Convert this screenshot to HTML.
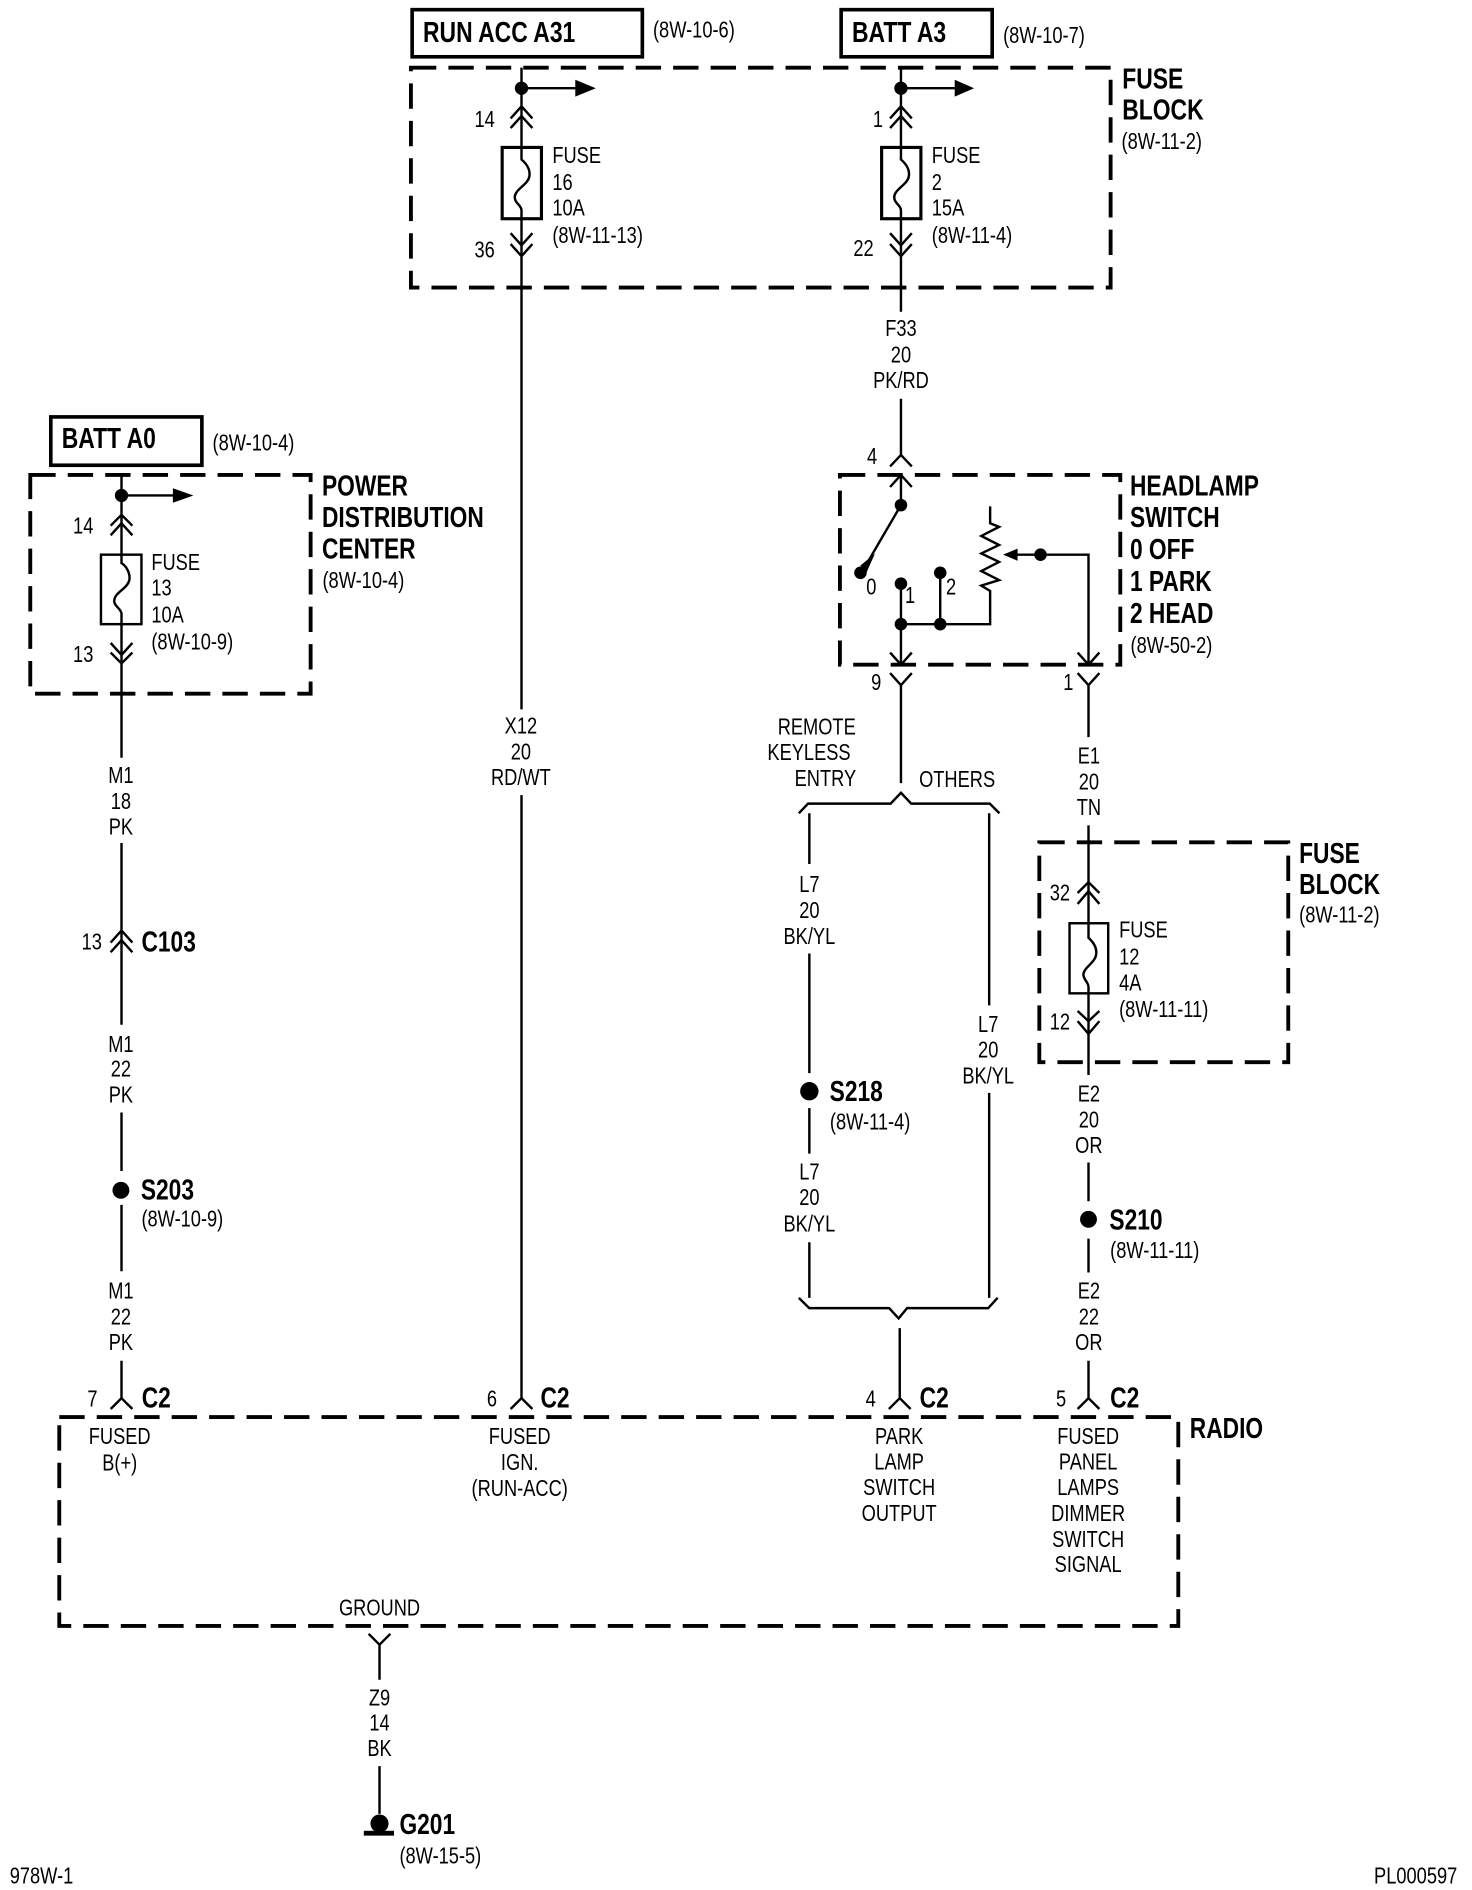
<!DOCTYPE html>
<html><head><meta charset="utf-8"><style>
html,body{margin:0;padding:0;background:#fff}
svg{display:block}
text{font-family:"Liberation Sans",sans-serif;fill:#000}
.s text,text.s{font-size:19px}
.b text,text.b{font-size:24px;font-weight:bold}
.m text,text.m{text-anchor:middle}
.w{stroke:#000;stroke-width:2;fill:none}
.t{stroke:#000;stroke-width:3;fill:none}
.d{stroke:#000;stroke-width:3.2;fill:none;stroke-dasharray:21 10}
</style></head><body>
<svg width="1472" height="1890" viewBox="0 0 1218 1564" xmlns="http://www.w3.org/2000/svg">
<rect width="1218" height="1564" fill="#fff"/>

<!-- boxes -->
<rect class="t" x="341" y="8" width="190.5" height="39"/>
<rect class="t" x="696" y="8" width="125" height="39"/>
<rect class="t" x="42" y="345" width="125" height="40"/>
<rect class="d" x="340" y="56" width="579" height="182"/>
<rect class="d" x="25" y="393" width="232" height="181"/>
<rect class="d" x="695" y="393" width="232" height="157"/>
<rect class="d" x="860" y="697" width="206" height="182"/>
<rect class="d" x="49" y="1172.6" width="926" height="172.9"/>

<!-- column B: fuse 16 -->
<path class="w" d="M431.5 56V132C435 135 439 140 438 146C437 153 425 157 426 164C426 168 431.5 170 431.5 174V587M431.5 658V1157"/>
<circle cx="431.5" cy="73" r="5.5"/>
<path class="w" d="M431.5 73H478"/><path d="M476 66L493 73L476 80Z"/>
<path class="w" d="M422.5 98L431.5 88L440.5 98M422.5 106L431.5 96L440.5 106"/>
<rect class="t" x="415.5" y="122" width="32.5" height="59" style="stroke-width:2.6"/>
<path class="w" d="M422.5 193L431.5 203L440.5 193M422.5 202L431.5 212L440.5 202"/>

<!-- column C: fuse 2 -->
<path class="w" d="M745.5 56V132C749 135 753 140 752 146C751 153 739 157 740 164C740 168 745.5 170 745.5 174V258M745.5 330V377M745.5 393V418"/>
<circle cx="745.5" cy="73" r="5.5"/>
<path class="w" d="M745.5 73H792"/><path d="M790 66L806 73L790 80Z"/>
<path class="w" d="M736.5 98L745.5 88L754.5 98M736.5 106L745.5 96L754.5 106"/>
<rect class="t" x="729.5" y="122" width="32.5" height="59" style="stroke-width:2.6"/>
<path class="w" d="M736.5 193L745.5 203L754.5 193M736.5 202L745.5 212L754.5 202"/>

<!-- column A -->
<path class="w" d="M100.5 393V466C104 468 108 474 107 480C105 488 94 490 94.5 498C95 502 100.5 504 100.5 508V627M100.5 697.6V848M100.5 920.6V969M100.5 997V1052M100.5 1126V1157"/>
<circle cx="100.5" cy="410" r="5.5"/>
<path class="w" d="M100.5 410H145"/><path d="M143 404L160 410L143 416Z"/>
<path class="w" d="M91.5 435L100.5 426L109.5 435M91.5 443L100.5 433L109.5 443"/>
<rect x="83.5" y="459" width="33.5" height="57.5" style="stroke:#000;stroke-width:2;fill:none"/>
<path class="w" d="M91.5 532L100.5 542L109.5 532M91.5 540L100.5 549L109.5 540"/>
<path class="w" d="M91.5 780L100.5 770L109.5 780M91.5 788L100.5 778L109.5 788"/>
<circle cx="100" cy="985" r="7"/>

<!-- headlamp switch -->
<path class="w" d="M736.5 386L745.5 376.5L754.5 386M736.5 403L745.5 393L754.5 403"/>
<circle cx="745.5" cy="418" r="5.2"/><circle cx="712" cy="474" r="5.2"/>
<path class="w" d="M745.5 418L714 472"/>
<path d="M712 468L724 458L716 476Z"/>
<circle cx="745.5" cy="483" r="5.2"/><circle cx="778" cy="474" r="5.2"/>
<circle cx="745.5" cy="516.5" r="5.2"/><circle cx="778" cy="516.5" r="5.2"/>
<path class="w" d="M745.5 483V550M778 474V516.5M745.5 516.5H819.3V489L812 484.6L826.7 480L812 472.6L826.7 465L812 458L826.7 451L812 443.5L826.7 436L819.3 433V419"/>
<path class="w" d="M840 459H900.7V550"/>
<path d="M830 459L842 454V464Z"/>
<circle cx="861" cy="459" r="5.2"/>
<path class="w" d="M736.5 540L745.5 550L754.5 540M736.5 557L745.5 567L754.5 557M745.5 567V648"/>
<path class="w" d="M891.7 540L900.7 550L909.7 540M891.7 557L900.7 567L909.7 557M900.7 567V610"/>

<!-- branches -->
<path class="w" d="M661 673L668.6 665H737L745.5 656L754 665H819L827 673"/>
<path class="w" d="M669.7 673V715M669.7 789V888M669.7 917V954.6M669.7 1028V1074"/>
<path class="w" d="M818.5 673V832M818.5 904.4V1074"/>
<circle cx="669.7" cy="903" r="7.6"/>
<path class="w" d="M661 1074L669.6 1082.5H735.7L743.6 1091L750.6 1082.5H817.7L825.5 1074"/>
<path class="w" d="M744.5 1099V1157"/>

<!-- column D -->
<path class="w" d="M900.7 683V776C904 779 908 784 907 790C906 797 896 801 896.5 807C897 811 900.7 813 900.7 817V889.6M900.7 962V994M900.7 1025V1053M900.7 1126V1157"/>
<path class="w" d="M891.7 739L900.7 730L909.7 739M891.7 748L900.7 737.5L909.7 748"/>
<rect x="885" y="764" width="32" height="58" style="stroke:#000;stroke-width:2;fill:none"/>
<path class="w" d="M891.7 836.6L900.7 845L909.7 836.6M891.7 845L900.7 855.6L909.7 845"/>
<circle cx="900.7" cy="1009" r="7"/>

<!-- C2 connectors -->
<path class="w" d="M91.5 1166L100.5 1157L109.5 1166M422.5 1166L431.5 1157L440.5 1166M735.5 1166L744.5 1157L753.5 1166M891.7 1166L900.7 1157L909.7 1166"/>

<!-- ground -->
<path class="w" d="M305 1352L314 1361L323 1352M314 1361V1390M314 1461.5V1501"/>
<circle cx="314" cy="1509" r="7.5"/>
<rect x="301" y="1515" width="25" height="4"/>

<!-- bold labels -->
<g class="b">
<text transform="translate(350 34.7) scale(.79 1)">RUN ACC A31</text>
<text transform="translate(705 34.7) scale(.79 1)">BATT A3</text>
<text transform="translate(51 370.7) scale(.79 1)">BATT A0</text>
<g transform="translate(928.6 0) scale(.79 1)"><text y="73.2">FUSE</text><text y="98.7">BLOCK</text></g>
<g transform="translate(266.4 0) scale(.785 1)"><text y="410">POWER</text><text y="436.2">DISTRIBUTION</text><text y="462">CENTER</text></g>
<g transform="translate(935 0) scale(.785 1)"><text y="410">HEADLAMP</text><text y="436.2">SWITCH</text><text y="462.6">0 OFF</text><text y="489">1 PARK</text><text y="515.7">2 HEAD</text></g>
<g transform="translate(1075 0) scale(.785 1)"><text y="714">FUSE</text><text y="740">BLOCK</text></g>
<text transform="translate(117 787.5) scale(.785 1)">C103</text>
<text transform="translate(116.5 992.5) scale(.785 1)">S203</text>
<text transform="translate(686.5 911) scale(.785 1)">S218</text>
<text transform="translate(918 1017.3) scale(.785 1)">S210</text>
<text transform="translate(117.2 1164.7) scale(.785 1)">C2</text>
<text transform="translate(447.2 1164.7) scale(.785 1)">C2</text>
<text transform="translate(761 1164.7) scale(.785 1)">C2</text>
<text transform="translate(918.6 1164.7) scale(.785 1)">C2</text>
<text transform="translate(984.5 1190) scale(.785 1)">RADIO</text>
<text transform="translate(330.5 1517.7) scale(.785 1)">G201</text>
</g>

<!-- small labels left aligned -->
<g class="s">
<text transform="translate(540.3 31) scale(.795 1)">(8W-10-6)</text>
<text transform="translate(830 35.5) scale(.795 1)">(8W-10-7)</text>
<text transform="translate(175.8 373) scale(.795 1)">(8W-10-4)</text>
<text transform="translate(928 123.5) scale(.795 1)">(8W-11-2)</text>
<text transform="translate(266.8 486.4) scale(.795 1)">(8W-10-4)</text>
<text transform="translate(935.5 540.2) scale(.795 1)">(8W-50-2)</text>
<text transform="translate(1075 763.5) scale(.795 1)">(8W-11-2)</text>
<g transform="translate(457 0) scale(.795 1)"><text y="135">FUSE</text><text y="157.4">16</text><text y="178.5">10A</text><text y="201">(8W-11-13)</text></g>
<g transform="translate(771 0) scale(.795 1)"><text y="135">FUSE</text><text y="157.4">2</text><text y="178.5">15A</text><text y="201">(8W-11-4)</text></g>
<g transform="translate(125.2 0) scale(.795 1)"><text y="471.8">FUSE</text><text y="493">13</text><text y="515">10A</text><text y="537.5">(8W-10-9)</text></g>
<g transform="translate(926 0) scale(.795 1)"><text y="776">FUSE</text><text y="798">12</text><text y="819.7">4A</text><text y="841.7">(8W-11-11)</text></g>
<text transform="translate(117 1015) scale(.795 1)">(8W-10-9)</text>
<text transform="translate(686.7 934.5) scale(.795 1)">(8W-11-4)</text>
<text transform="translate(918.6 1041) scale(.795 1)">(8W-11-11)</text>
<text transform="translate(330.5 1542) scale(.795 1)">(8W-15-5)</text>
<text transform="translate(8 1558.5) scale(.795 1)">978W-1</text>
<text transform="translate(1137 1558.5) scale(.795 1)">PL000597</text>
<text transform="translate(643.5 607.7) scale(.795 1)">REMOTE</text>
<text transform="translate(635 629) scale(.795 1)">KEYLESS</text>
<text transform="translate(657.5 650.5) scale(.795 1)">ENTRY</text>
<text transform="translate(760.5 651.3) scale(.795 1)">OTHERS</text>
</g>

<!-- centred labels -->
<g class="s m">
<text transform="translate(401 105) scale(.795 1)">14</text>
<text transform="translate(401 213) scale(.795 1)">36</text>
<text transform="translate(726.5 105) scale(.795 1)">1</text>
<text transform="translate(714.5 212) scale(.795 1)">22</text>
<text transform="translate(68.8 441.5) scale(.795 1)">14</text>
<text transform="translate(68.8 548) scale(.795 1)">13</text>
<text transform="translate(75.9 785.8) scale(.795 1)">13</text>
<text transform="translate(721.6 384) scale(.795 1)">4</text>
<text transform="translate(721 492) scale(.795 1)">0</text>
<text transform="translate(753 499) scale(.795 1)">1</text>
<text transform="translate(787 492) scale(.795 1)">2</text>
<text transform="translate(725 571) scale(.795 1)">9</text>
<text transform="translate(884 571) scale(.795 1)">1</text>
<text transform="translate(877 745) scale(.795 1)">32</text>
<text transform="translate(877 852) scale(.795 1)">12</text>
<text transform="translate(76.5 1164) scale(.795 1)">7</text>
<text transform="translate(407 1164) scale(.795 1)">6</text>
<text transform="translate(720.5 1164) scale(.795 1)">4</text>
<text transform="translate(878 1164) scale(.795 1)">5</text>
<g transform="translate(745.5 0) scale(.795 1)"><text y="278.2">F33</text><text y="300">20</text><text y="321">PK/RD</text></g>
<g transform="translate(431 0) scale(.795 1)"><text y="607">X12</text><text y="628.5">20</text><text y="649.7">RD/WT</text></g>
<g transform="translate(100 0) scale(.795 1)"><text y="648">M1</text><text y="669.5">18</text><text y="690.6">PK</text>
<text y="870.5">M1</text><text y="891">22</text><text y="912.5">PK</text>
<text y="1074.5">M1</text><text y="1096">22</text><text y="1117">PK</text></g>
<g transform="translate(901 0) scale(.795 1)"><text y="632">E1</text><text y="653.5">20</text><text y="674.5">TN</text>
<text y="911.5">E2</text><text y="933">20</text><text y="954">OR</text>
<text y="1074.6">E2</text><text y="1096">22</text><text y="1117">OR</text></g>
<g transform="translate(669.7 0) scale(.795 1)"><text y="738">L7</text><text y="759.5">20</text><text y="781">BK/YL</text>
<text y="976">L7</text><text y="997">20</text><text y="1019">BK/YL</text></g>
<g transform="translate(817.7 0) scale(.795 1)"><text y="854">L7</text><text y="875">20</text><text y="896.6">BK/YL</text></g>
<g transform="translate(99 0) scale(.795 1)"><text y="1195">FUSED</text><text y="1217">B(+)</text></g>
<g transform="translate(430 0) scale(.795 1)"><text y="1195">FUSED</text><text y="1216.5">IGN.</text><text y="1238">(RUN-ACC)</text></g>
<g transform="translate(744 0) scale(.795 1)"><text y="1195">PARK</text><text y="1216">LAMP</text><text y="1237">SWITCH</text><text y="1258.7">OUTPUT</text></g>
<g transform="translate(900.4 0) scale(.795 1)"><text y="1195">FUSED</text><text y="1216">PANEL</text><text y="1237">LAMPS</text><text y="1258.7">DIMMER</text><text y="1280">SWITCH</text><text y="1301">SIGNAL</text></g>
<g transform="translate(314 0) scale(.795 1)"><text y="1337">GROUND</text><text y="1411.4">Z9</text><text y="1432">14</text><text y="1453">BK</text></g>
</g>
</svg>
</body></html>
